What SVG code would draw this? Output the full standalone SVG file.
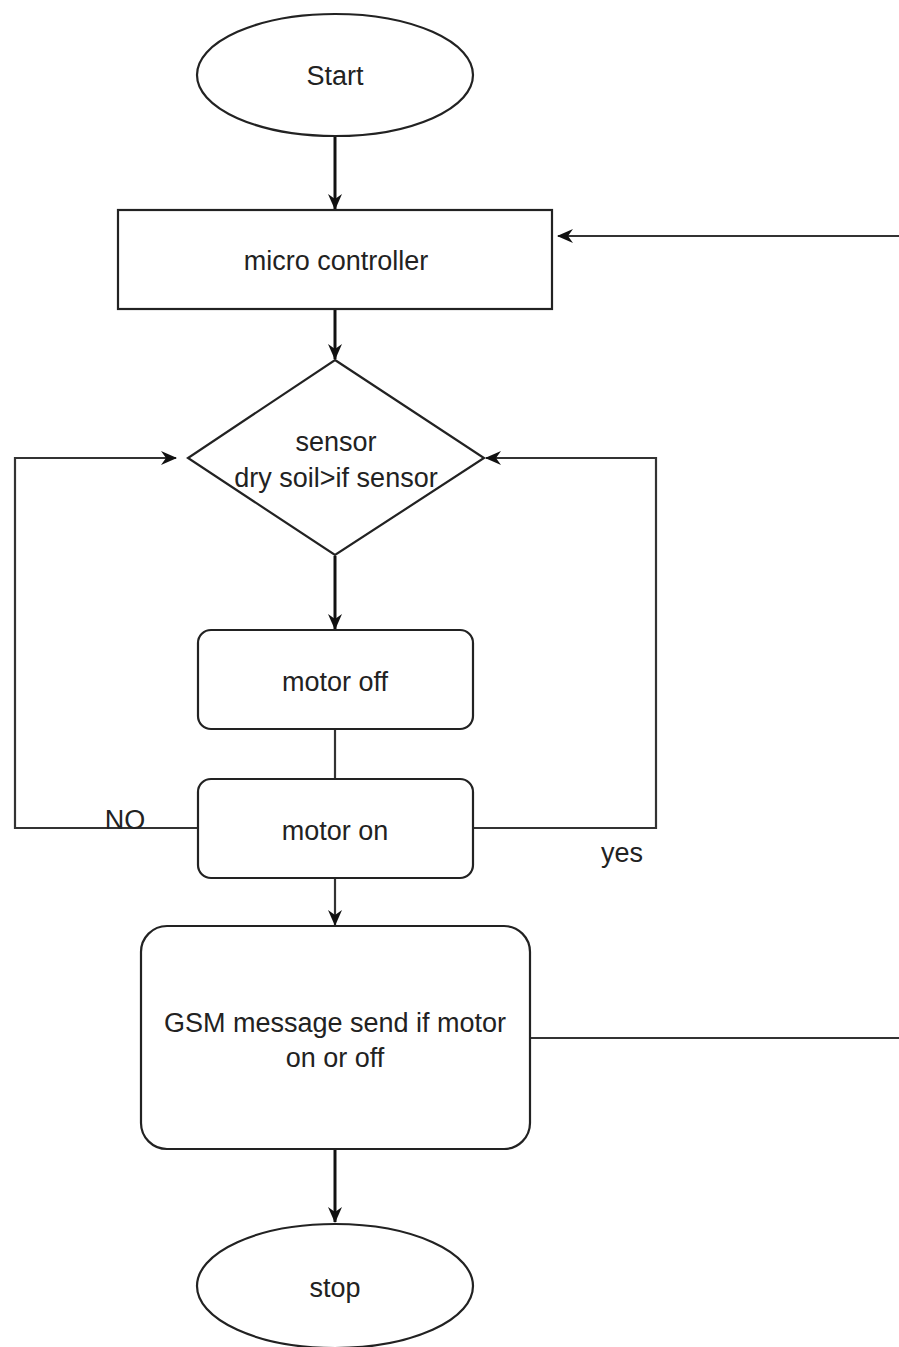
<svg xmlns="http://www.w3.org/2000/svg" width="899" height="1347" viewBox="0 0 899 1347">
<defs>
<marker id="arr" markerWidth="16" markerHeight="16" refX="15" refY="8" orient="auto" markerUnits="userSpaceOnUse">
<path d="M0,1 L16,8 L0,15 L5,8 Z" fill="#111"/>
</marker>
<style>
.shape{fill:#fff;stroke:#222;stroke-width:2.2}
.conn{fill:none;stroke:#333;stroke-width:2.2}
.thick{fill:none;stroke:#111;stroke-width:3}
text{font-family:"Liberation Sans",Arial,sans-serif;font-size:27px;fill:#222;text-anchor:middle}
</style>
</defs>
<rect width="899" height="1347" fill="#fff"/>
<g id="connectors">
<line class="thick" x1="335" y1="137" x2="335" y2="209" marker-end="url(#arr)"/>
<line class="thick" x1="335" y1="310" x2="335" y2="359" marker-end="url(#arr)"/>
<line class="thick" x1="335" y1="556" x2="335" y2="629" marker-end="url(#arr)"/>
<line class="conn" x1="335" y1="729" x2="335" y2="779"/>
<line class="conn" x1="335" y1="878" x2="335" y2="925" marker-end="url(#arr)"/>
<line class="thick" x1="335" y1="1150" x2="335" y2="1222" marker-end="url(#arr)"/>
<path class="conn" d="M198,828 H15 V458 H176" marker-end="url(#arr)"/>
<path class="conn" d="M473,828 H656 V458 H486" marker-end="url(#arr)"/>
<path class="conn" d="M530,1038 H902 V236 H558" marker-end="url(#arr)"/>
<text x="125" y="829">NO</text>
<text x="622" y="862">yes</text>
</g>
<g id="start">
<ellipse class="shape" cx="335" cy="75" rx="138" ry="61"/>
<text x="335" y="85">Start</text>
</g>
<g id="micro">
<rect class="shape" x="118" y="210" width="434" height="99"/>
<text x="336" y="270">micro controller</text>
</g>
<g id="sensor">
<path class="shape" d="M335,360 L484,458 L335,555 L188,458 Z"/>
<text x="336" y="451">sensor</text>
<text x="336" y="487">dry soil&gt;if sensor</text>
</g>
<g id="motoroff">
<rect class="shape" x="198" y="630" width="275" height="99" rx="13"/>
<text x="335" y="691">motor off</text>
</g>
<g id="motoron">
<rect class="shape" x="198" y="779" width="275" height="99" rx="13"/>
<text x="335" y="840">motor on</text>
</g>
<g id="gsm">
<rect class="shape" x="141" y="926" width="389" height="223" rx="26"/>
<text x="335" y="1032">GSM message send if motor</text>
<text x="335" y="1067">on or off</text>
</g>
<g id="stop">
<ellipse class="shape" cx="335" cy="1286" rx="138" ry="62"/>
<text x="335" y="1297">stop</text>
</g>
</svg>
